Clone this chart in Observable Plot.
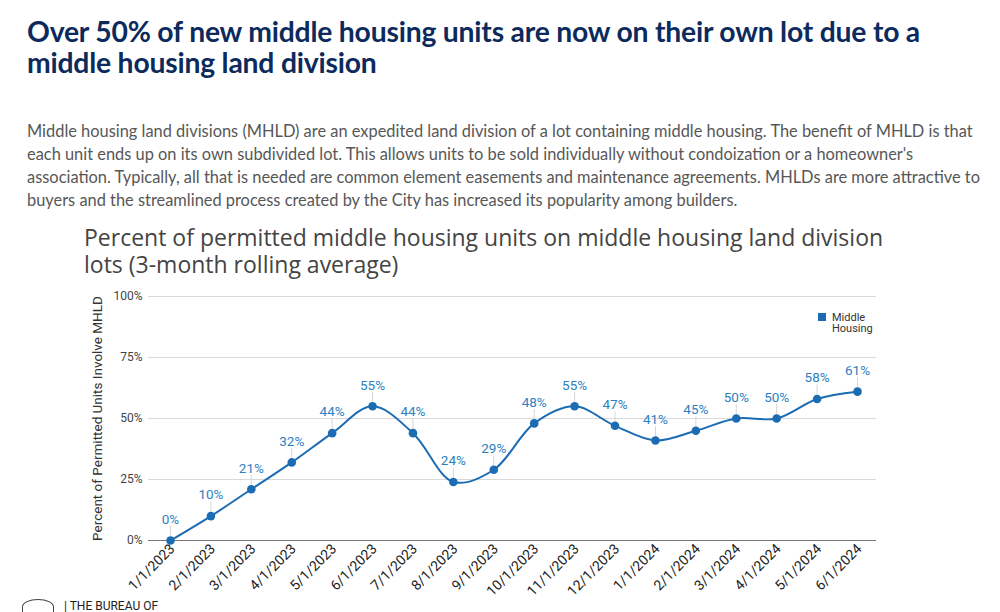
<!DOCTYPE html>
<html>
<head>
<meta charset="utf-8">
<script src="https://cdn.jsdelivr.net/npm/d3@7"></script>
<script src="https://cdn.jsdelivr.net/npm/@observablehq/plot@0.6"></script>
<style>
  html, body { margin: 0; padding: 0; background: #fff; width: 1000px; height: 612px; overflow: hidden; position: relative; }
  #title { position: absolute; left: 27px; top: 16px; width: 970px; font-family: Lato, sans-serif; font-weight: 700; font-size: 28.3px; line-height: 31px; color: #0c2b5c; letter-spacing: -0.2px; }
  #desc { position: absolute; left: 27px; top: 119px; width: 973px; font-family: Lato, sans-serif; font-size: 16.4px; line-height: 23px; color: #575757; white-space: nowrap; }
  .ctitle { position: absolute; left: 84px; font-family: "Open Sans", sans-serif; font-size: 23px; line-height: 23px; height: 23px; color: #444; white-space: nowrap; }
  #chart { position: absolute; left: 0; top: 280px; }
  #footer { position: absolute; left: 22px; top: 599px; font-family: Roboto, sans-serif; font-size: 12px; color: #222; white-space: nowrap; }
</style>
</head>
<body>
<div id="title">Over 50% of new middle housing units are now on their own lot due to a<br>middle housing land division</div>
<div id="desc">Middle housing land divisions (MHLD) are an expedited land division of a lot containing middle housing. The benefit of MHLD is that<br>each unit ends up on its own subdivided lot. This allows units to be sold individually without condoization or a homeowner's<br>association. Typically, all that is needed are common element easements and maintenance agreements. MHLDs are more attractive to<br>buyers and the streamlined process created by the City has increased its popularity among builders.</div>
<div class="ctitle" style="top:226px">Percent of permitted middle housing units on middle housing land division</div>
<div class="ctitle" style="top:253px">lots (3-month rolling average)</div>
<div id="chart"></div>
<div id="footer"><span style="display:inline-block;width:30px;height:14px;border:1px solid #444;border-radius:50% 50% 0 0;vertical-align:top;margin-right:10px"></span>| THE BUREAU OF</div>
<script>
const months = ["1/1/2023","2/1/2023","3/1/2023","4/1/2023","5/1/2023","6/1/2023","7/1/2023","8/1/2023","9/1/2023","10/1/2023","11/1/2023","12/1/2023","1/1/2024","2/1/2024","3/1/2024","4/1/2024","5/1/2024","6/1/2024"];
const pct = [0,10,21,32,44,55,44,24,29,48,55,47,41,45,50,50,58,61];
const yTicks = [0,25,50,75,100];
const seriesName = "Middle Housing";
const yLabel = "Percent of Permitted Units Involve MHLD";
const data = months.map((m, i) => ({month: m, value: pct[i]}));
const blue = "#1c6cb3";

const leader = {
  draw(context, l) { context.moveTo(0, -5); context.lineTo(0, -l); }
};

const chart = Plot.plot({
  width: 1000,
  height: 332,
  marginTop: 16,
  marginBottom: 72,
  marginLeft: 148,
  marginRight: 124,
  style: {fontFamily: "Roboto, sans-serif", fontSize: "12px", color: "#333", background: "#fff"},
  x: {type: "point", domain: months, range: [170, 857], padding: 0, round: false, label: null},
  y: {domain: [0, 100], label: null},
  marks: [
    Plot.gridY(yTicks, {stroke: "#d9d9d9", strokeOpacity: 1}),
    Plot.ruleY([0], {stroke: "#777", strokeWidth: 1.2}),
    Plot.axisY(yTicks, {tickFormat: d => d + "%", tickSize: 0, tickPadding: 6, fill: "#444", fontSize: 12}),
    Plot.axisX({tickSize: 0, tickRotate: -45, tickPadding: 6, dx: 2, fill: "#222", fontSize: 14}),
    Plot.vector(data, {x: "month", y: "value", length: 14, rotate: 0, anchor: "start", shape: leader, stroke: "#d6d6d6", strokeWidth: 1}),
    Plot.line(data, {x: "month", y: "value", stroke: blue, strokeWidth: 2, curve: "catmull-rom"}),
    Plot.dot(data, {x: "month", y: "value", fill: blue, r: 4.3}),
    Plot.text(data, {x: "month", y: "value", text: d => d.value + "%", dy: -21, fill: "#2d7fc1", fontSize: 13.5}),
    Plot.text([yLabel], {frameAnchor: "left", text: d => d, rotate: -90, textAnchor: "middle", dx: -51, fontSize: 13.5, fill: "#333"})
  ]
});
document.getElementById("chart").appendChild(chart);

const svg = d3.select(chart);
const lg = svg.append("g").attr("font-family", "Roboto, sans-serif").attr("font-size", 11).attr("fill", "#333").attr("text-anchor", "start");
lg.append("rect").attr("x", 818).attr("y", 33).attr("width", 8).attr("height", 8).attr("fill", blue);
const words = seriesName.split(" ");
lg.append("text").attr("x", 832).attr("y", 41).text(words[0]);
lg.append("text").attr("x", 832).attr("y", 52).text(words[1]);
</script>
</body>
</html>
